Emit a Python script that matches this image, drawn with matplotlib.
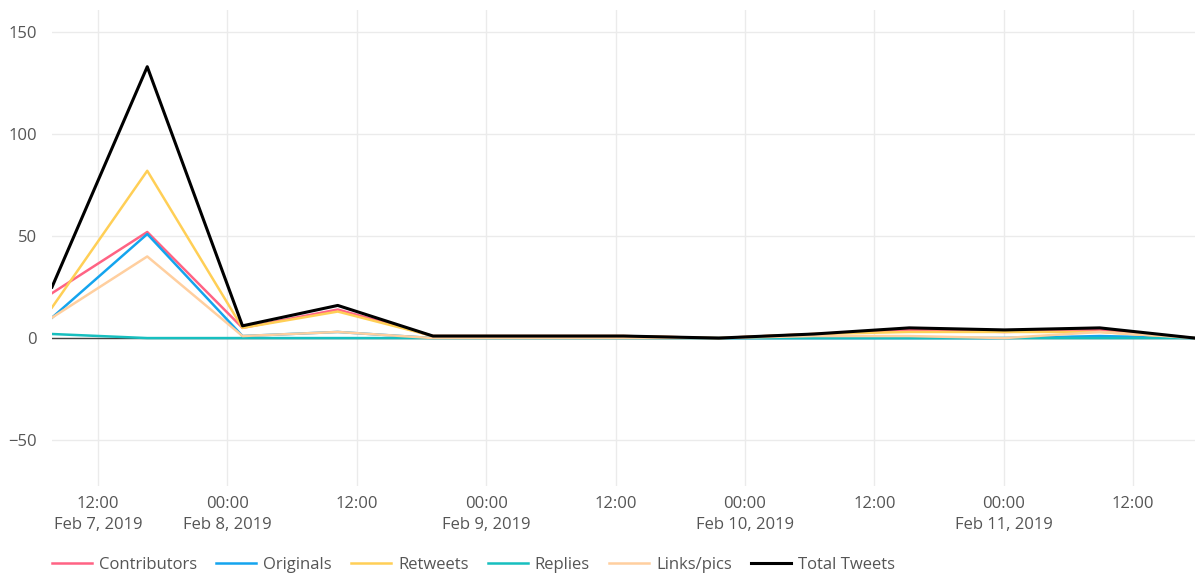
import pandas as pd
import matplotlib.pyplot as plt
import matplotlib.dates as mdates

plt.rcParams['font.family'] = ['Open Sans', 'DejaVu Sans']

# time bins
times = pd.to_datetime([
    "2019-02-07 07:44", "2019-02-07 16:34", "2019-02-08 01:24", "2019-02-08 10:14",
    "2019-02-08 19:04", "2019-02-09 03:54", "2019-02-09 12:44", "2019-02-09 21:34",
    "2019-02-10 06:24", "2019-02-10 15:14", "2019-02-11 00:04", "2019-02-11 08:54",
    "2019-02-11 17:44",
])

contributors = [22, 52, 5, 14, 1, 1, 1, 0, 2, 4, 3, 4, 0]
originals = [10, 51, 1, 3, 0, 0, 0, 0, 0, 0, 0, 1, 0]
retweets = [15, 82, 5, 13, 1, 1, 1, 0, 2, 3, 3, 3, 0]
replies = [2, 0, 0, 0, 0, 0, 0, 0, 0, 0, 0, 0, 0]
links = [10, 40, 1, 3, 0, 0, 0, 0, 1, 1, 0, 3, 0]
total = [25, 133, 6, 16, 1, 1, 1, 0, 2, 5, 4, 5, 0]

series = [
    ("Contributors", contributors, "#ff6384", 1.8),
    ("Originals", originals, "#14a4ee", 1.8),
    ("Retweets", retweets, "#ffcf56", 1.8),
    ("Replies", replies, "#17bfbf", 1.8),
    ("Links/pics", links, "#ffcf9f", 1.8),
    ("Total Tweets", total, "#000000", 2.2),
]

tick_times = pd.to_datetime([
    "2019-02-07 12:00", "2019-02-08 00:00", "2019-02-08 12:00", "2019-02-09 00:00",
    "2019-02-09 12:00", "2019-02-10 00:00", "2019-02-10 12:00", "2019-02-11 00:00",
    "2019-02-11 12:00",
])
tick_labels = ["12:00\nFeb 7, 2019", "00:00\nFeb 8, 2019", "12:00", "00:00\nFeb 9, 2019",
               "12:00", "00:00\nFeb 10, 2019", "12:00", "00:00\nFeb 11, 2019", "12:00"]

fig = plt.figure(figsize=(11.95, 5.78), dpi=100)
ax = fig.add_axes([52 / 1195, 1 - 486 / 578, 1 - 52 / 1195, (486 - 10) / 578])

ax.axhline(0, color="#444444", lw=1.0, zorder=1)
for name, vals, col, lw in series:
    ax.plot(times, vals, color=col, lw=lw, label=name, zorder=2)

ax.set_xlim(times[0], times[-1])
ax.set_ylim(-72.5, 160.8)
ax.set_yticks([-50, 0, 50, 100, 150])
ax.set_yticklabels(["\u221250", "0", "50", "100", "150"])
ax.set_xticks(mdates.date2num(tick_times))
ax.set_xticklabels(tick_labels, linespacing=1.45)

ax.grid(True, color="#ebebeb", lw=1.0)
ax.set_axisbelow(True)
for s in ax.spines.values():
    s.set_visible(False)
ax.tick_params(axis="both", length=0, labelsize=12, colors="#555555")
ax.tick_params(axis="x", pad=7)
ax.tick_params(axis="y", pad=11)

fig.legend(loc="center left", bbox_to_anchor=(52 / 1195, 1 - 565 / 578), ncol=6,
           frameon=False, fontsize=12, handlelength=2.4, columnspacing=1.15,
           handletextpad=0.42, borderpad=0, borderaxespad=0, labelcolor="#555555")

fig.savefig("out.png", dpi=100)
